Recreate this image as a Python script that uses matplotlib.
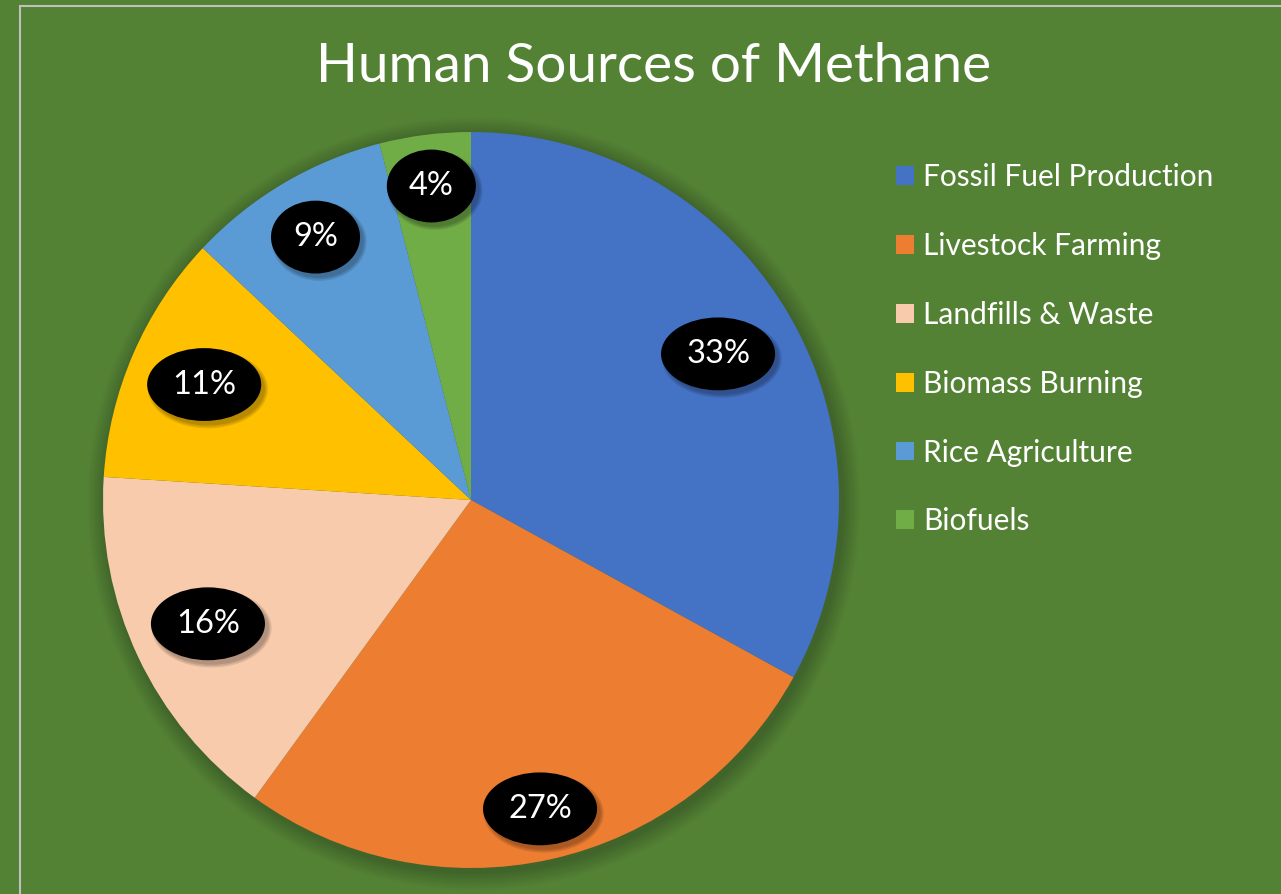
import numpy as np
import matplotlib
matplotlib.use("Agg")
import matplotlib.pyplot as plt
from matplotlib.patches import Ellipse, Circle
from matplotlib.lines import Line2D

# data
sources = ["Fossil Fuel Production", "Livestock Farming", "Landfills & Waste",
           "Biomass Burning", "Rice Agriculture", "Biofuels"]
shares = [33, 27, 16, 11, 9, 4]
colors = ["#4472C4", "#ED7D31", "#F8CBAD", "#FFC000", "#5B9BD5", "#70AD47"]
title = "Human Sources of Methane"

# where the callouts sit along each slice (fraction of radius)
label_r = [0.78, 0.86, 0.79, 0.79, 0.83, 0.86]

bg = "#548235"
plt.rcParams["font.family"] = ["Lato", "DejaVu Sans"]

fig = plt.figure(figsize=(12.81, 8.94), dpi=100, facecolor=bg)
W, H = 1281, 894
cx, cy, R = 471, 500, 368

ax = fig.add_axes([(cx - R) / W, (H - cy - R) / H, 2 * R / W, 2 * R / H])
ax.set_facecolor(bg)
ax.axis("off")

# soft shadow behind the pie
for i in range(10):
    ax.add_patch(Circle((0.008, -0.010), 1.0 + 0.005 * (10 - i),
                        color="black", alpha=0.018, lw=0, zorder=0,
                        clip_on=False))

wedges, _ = ax.pie(shares, colors=colors, startangle=90, counterclock=False,
                   radius=1.0, wedgeprops=dict(linewidth=0))
for w in wedges:
    w.set_zorder(1)

ax.set_xlim(-1, 1)
ax.set_ylim(-1, 1)
ax.set_aspect("equal")

# percentage callouts in black ellipses
for w, val, lr in zip(wedges, shares, label_r):
    mid = np.deg2rad((w.theta1 + w.theta2) / 2)
    x, y = lr * np.cos(mid), lr * np.sin(mid)
    txt = f"{val}%"
    ew = 0.31 if len(txt) > 2 else 0.242
    eh = 0.198
    for k in range(3):
        ax.add_patch(Ellipse((x + 0.010, y - 0.012), ew + 0.008 * k, eh + 0.008 * k,
                             color="black", alpha=0.10, lw=0, zorder=2))
    ax.add_patch(Ellipse((x, y), ew, eh, color="black", lw=0, zorder=3))
    ax.text(x, y, txt, color="white", fontsize=23.5, ha="center", va="center", zorder=4)

fig.text(654 / W, 1 - 67 / H, title, color="white", fontsize=39.5,
         ha="center", va="center")

leg = fig.legend(wedges, sources, loc="upper left",
                 bbox_to_anchor=(869 / W, 1 - 136 / H), frameon=False,
                 fontsize=21.5, labelcolor="white", handlelength=0.6,
                 handleheight=0.6, handletextpad=0.3, labelspacing=1.37)

# chart frame
fig.add_artist(Line2D([20 / W, 20 / W], [0, 1 - 6 / H], color="#BFBFBF", lw=1.5))
fig.add_artist(Line2D([20 / W, 1], [1 - 6 / H, 1 - 6 / H], color="#BFBFBF", lw=1.5))

fig.savefig("out.png", dpi=100, facecolor=bg)
